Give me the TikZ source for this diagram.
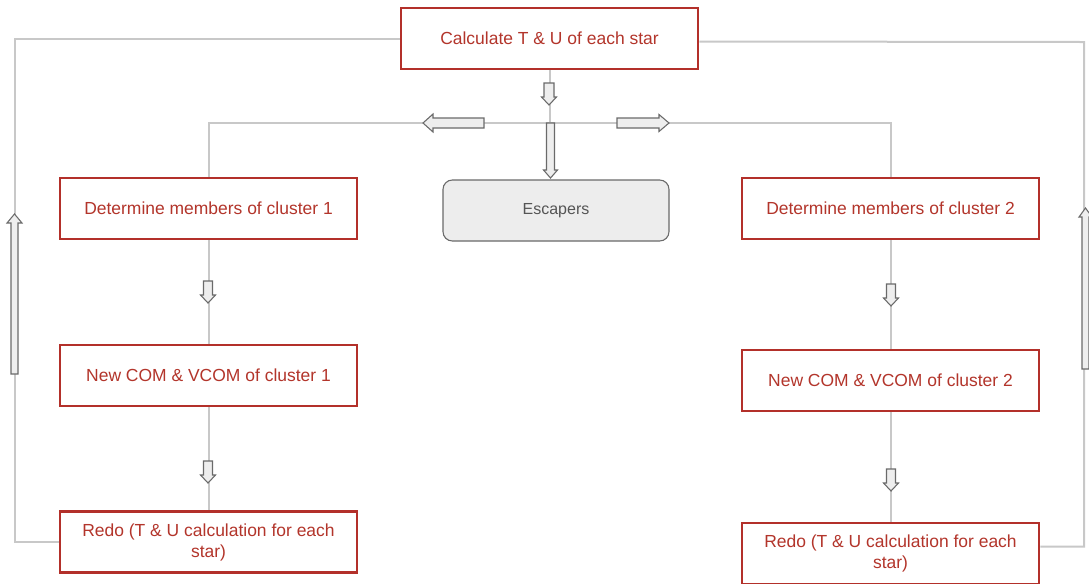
\documentclass[tikz,border=0pt]{standalone}
\usepackage{fontspec}
\setmainfont{Liberation Sans}
\usetikzlibrary{calc}
\pgfdeclarelayer{background}
\pgfsetlayers{background,main}
\definecolor{boxred}{HTML}{B3302A}
\definecolor{txtred}{HTML}{B3352B}
\definecolor{linegray}{HTML}{C8C8C8}
\definecolor{arrowfill}{HTML}{EEEEEE}
\definecolor{arrowedge}{HTML}{6A6A6A}
\definecolor{escfill}{HTML}{EDEDED}
\definecolor{esctext}{HTML}{555555}
\tikzset{
  redbox/.style={draw=boxred, line width=1.9pt, fill=white, text=txtred,
    minimum width=222.75pt, minimum height=45.75pt, align=center,
    font=\fontsize{13.1pt}{15.75pt}\selectfont, inner sep=2pt},
  escbox/.style={draw=arrowedge, line width=0.8pt, fill=escfill, text=esctext,
    rounded corners=7pt, minimum width=169.5pt, minimum height=45.75pt,
    font=\fontsize{12pt}{14pt}\selectfont},
  conn/.style={draw=linegray, line width=1.5pt},
  arrowbody/.style={draw=arrowedge, fill=arrowfill, line width=0.8pt, line join=miter}
}
\newcommand{\blockarrow}[6]{% tail, rotation, length, shaft half, head half, head length
  \begin{scope}[shift={#1}, rotate=#2]
    \draw[arrowbody] (0,-#4) -- ({#3-#6},-#4) -- ({#3-#6},-#5) -- (#3,0)
      -- ({#3-#6},#5) -- ({#3-#6},#4) -- (0,#4) -- cycle;
  \end{scope}}
\begin{document}
\begin{tikzpicture}[x=0.75pt, y=-0.75pt]
\useasboundingbox (0,0) rectangle (1089,583);
\begin{pgfonlayer}{background}
\fill[white] (0,0) rectangle (1089,583);
\end{pgfonlayer}

% boxes
\node[redbox] (top) at (549.5,38.5) {Calculate T \& U of each star};
\node[redbox] (c1) at (208.5,208.5) {Determine members of cluster 1};
\node[redbox] (c2) at (890.5,208.5) {Determine members of cluster 2};
\node[escbox] (esc) at (556,210.5) {Escapers};
\node[redbox] (n1) at (208.5,375.5) {New COM \& VCOM of cluster 1};
\node[redbox] (n2) at (890.5,380.5) {New COM \& VCOM of cluster 2};
\node[redbox] (r1) at (208.5,542) {Redo (T \& U calculation for each\\star)};
\node[redbox] (r2) at (890.5,553.5) {Redo (T \& U calculation for each\\star)};

% coordinates for connector bends
\coordinate (bus) at (549.5,123);
\coordinate (lc) at (14.5,542);
\coordinate (rc) at (1084,42);

% connectors, under the boxes
\begin{pgfonlayer}{background}
\draw[conn] (top.west) -| (lc) -- (r1.west);
\draw[conn] ($(top.east)+(0,3)$) -- (rc) |- ($(r2.east)+(0,-7)$);
\draw[conn] (top.south) -- (bus);
\draw[conn] (c1.north) |- (bus) -| (c2.north);
\draw[conn] (c1.south) -- (n1.north);
\draw[conn] (n1.south) -- (r1.north);
\draw[conn] (c2.south) -- (n2.north);
\draw[conn] (n2.south) -- (r2.north);
\end{pgfonlayer}

% block arrows
\blockarrow{(549,83)}{-90}{22}{5}{7.5}{8}
\blockarrow{(484,123)}{180}{61}{5}{9}{10}
\blockarrow{(617,123)}{0}{52}{5}{8.5}{10}
\blockarrow{(550.5,123)}{-90}{55}{4}{7}{8}
\blockarrow{(208,281)}{-90}{22}{4.5}{7.5}{8}
\blockarrow{(208,461)}{-90}{22}{4.5}{7.5}{8}
\blockarrow{(891,284)}{-90}{22}{4.5}{7.5}{8}
\blockarrow{(891,469)}{-90}{22}{4.5}{7.5}{8}
\blockarrow{(14.5,374)}{90}{160}{3.5}{7.5}{9}
\blockarrow{(1085.5,369)}{90}{161}{3.5}{6.5}{9}
\end{tikzpicture}
\end{document}
